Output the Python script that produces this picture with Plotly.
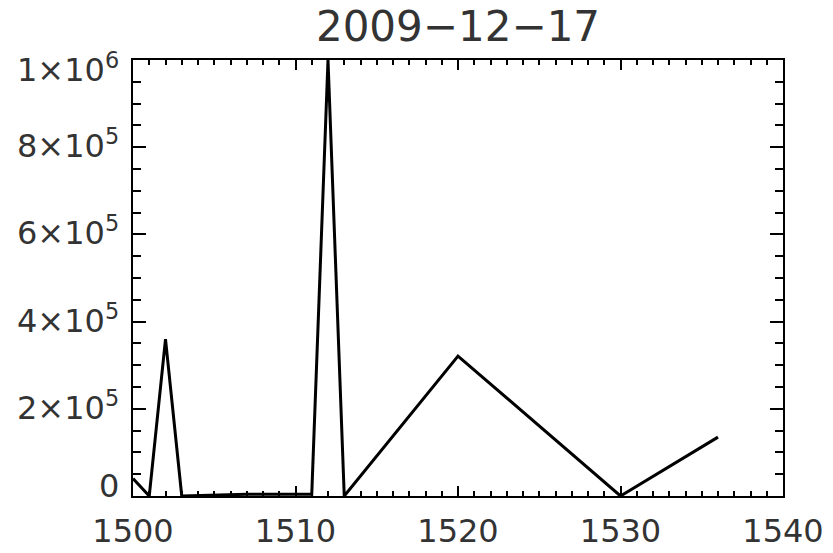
import plotly.graph_objects as go

# Data
x_vals = [1500, 1501, 1502, 1503, 1507, 1511, 1512, 1513, 1520, 1530, 1536]
y_vals = [40000, 0, 360000, 0, 4000, 4000, 1000000, 0, 321000, 0, 135000]

title_text = "2009\u221212\u221217"
x_ticks = [1500, 1510, 1520, 1530, 1540]
x_ticklabels = ["1500", "1510", "1520", "1530", "1540"]
y_ticks = [0, 200000, 400000, 600000, 800000, 1000000]
y_ticklabels = ["0", "2\u00d710<sup>5</sup>", "4\u00d710<sup>5</sup>",
                "6\u00d710<sup>5</sup>", "8\u00d710<sup>5</sup>", "1\u00d710<sup>6</sup>"]
y_label_shift = [10, 3, 3, 3, 3, -8]

FONT = "DejaVu Sans"
TXT = "#333333"

fig = go.Figure()
fig.add_trace(go.Scatter(x=x_vals, y=y_vals, mode="lines",
                         line=dict(color="black", width=3), showlegend=False))

for v, t, s in zip(y_ticks, y_ticklabels, y_label_shift):
    fig.add_annotation(x=0, xref="paper", y=v, yref="y", text=t, showarrow=False,
                       xanchor="right", yanchor="middle", xshift=-12, yshift=s,
                       font=dict(family=FONT, size=32, color=TXT))

fig.update_layout(
    width=825, height=545,
    margin=dict(l=125, r=50, t=52, b=57, autoexpand=False),
    paper_bgcolor="white", plot_bgcolor="white",
    title=dict(text=title_text, x=0.5, xref="paper", xanchor="center",
               y=1 - 18.5 / 545, yref="container", yanchor="middle",
               font=dict(family=FONT, size=42, color=TXT)),
    xaxis=dict(range=[1500, 1540], tickmode="array", tickvals=x_ticks, ticktext=x_ticklabels,
               automargin=False,
               ticks="inside", ticklen=10, tickwidth=2, tickcolor="black",
               showline=True, linecolor="black", linewidth=2, mirror="allticks",
               showgrid=False, zeroline=False, ticklabelstandoff=6,
               tickfont=dict(family=FONT, size=32, color=TXT),
               minor=dict(ticks="inside", ticklen=5, tickwidth=2, tickcolor="black", dtick=1,
                          showgrid=False)),
    yaxis=dict(range=[0, 1000000], tickmode="array", tickvals=y_ticks, showticklabels=False,
               automargin=False,
               ticks="inside", ticklen=13, tickwidth=2, tickcolor="black",
               showline=True, linecolor="black", linewidth=2, mirror="allticks",
               showgrid=False, zeroline=False,
               minor=dict(ticks="inside", ticklen=8, tickwidth=2, tickcolor="black", dtick=50000,
                          showgrid=False)),
)

fig.write_html("out.html")
